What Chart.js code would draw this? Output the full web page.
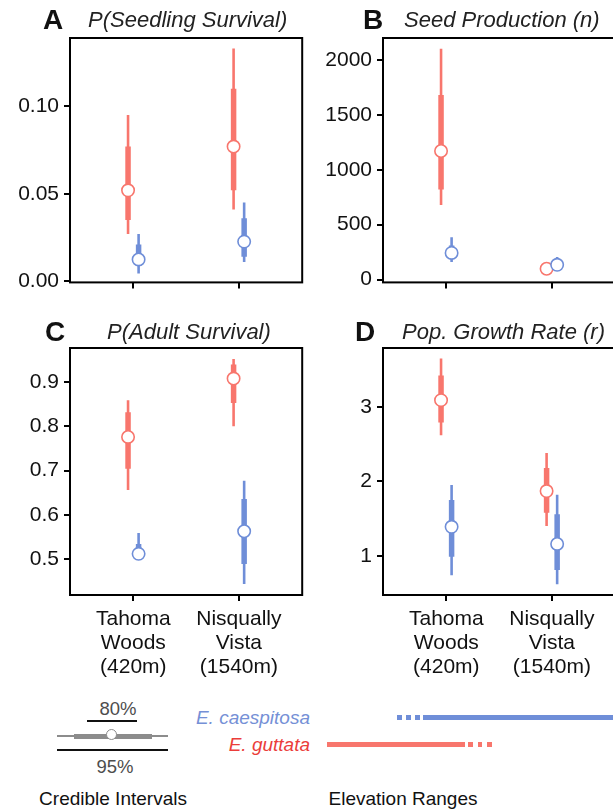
<!DOCTYPE html>
<html>
<head>
<meta charset="utf-8">
<script src="https://cdn.jsdelivr.net/npm/chart.js@4.4.1/dist/chart.umd.min.js"></script>
<style>
  html, body { margin: 0; padding: 0; width: 613px; height: 812px; overflow: hidden; background: #fff;
               font-family: "Liberation Sans", Arial, sans-serif; }
  .panel { position: absolute; }
  .txt { position: absolute; white-space: nowrap; line-height: 1; }
  .bar { position: absolute; }
</style>
</head>
<body>

<div class="panel" style="left:0;top:0;width:310px;height:300px"><canvas id="pA"></canvas></div>
<div class="panel" style="left:300px;top:0;width:323px;height:300px"><canvas id="pB"></canvas></div>
<div class="panel" style="left:0;top:300px;width:310px;height:385px"><canvas id="pC"></canvas></div>
<div class="panel" style="left:300px;top:300px;width:323px;height:385px"><canvas id="pD"></canvas></div>

<div id="notes"></div>

<script>
// sites on the x axis
const sites = [["Tahoma", "Woods", "(420m)"], ["Nisqually", "Vista", "(1540m)"]];

// A: seedling survival (median, 80% and 95% credible intervals)
const seedSurvGutMed = [0.052, 0.077];
const seedSurvGut80 = [[0.035, 0.077], [0.052, 0.110]];
const seedSurvGut95 = [[0.027, 0.095], [0.041, 0.133]];
const seedSurvCaeMed = [0.0125, 0.0227];
const seedSurvCae80 = [[0.009, 0.021], [0.014, 0.036]];
const seedSurvCae95 = [[0.0045, 0.027], [0.011, 0.045]];
const seedSurvTicks = [0, 0.05, 0.10];

// B: seed production
const seedProdGutMed = [1170, 99];
const seedProdGut80 = [[820, 1680], [80, 120]];
const seedProdGut95 = [[680, 2100], [65, 135]];
const seedProdCaeMed = [243, 135];
const seedProdCae80 = [[200, 310], [110, 170]];
const seedProdCae95 = [[160, 385], [95, 205]];
const seedProdTicks = [0, 500, 1000, 1500, 2000];

// C: adult survival
const adultSurvGutMed = [0.776, 0.908];
const adultSurvGut80 = [[0.704, 0.832], [0.853, 0.940]];
const adultSurvGut95 = [[0.656, 0.859], [0.800, 0.952]];
const adultSurvCaeMed = [0.512, 0.563];
const adultSurvCae80 = [[0.503, 0.534], [0.489, 0.636]];
const adultSurvCae95 = [[0.498, 0.559], [0.444, 0.677]];
const adultSurvTicks = [0.5, 0.6, 0.7, 0.8, 0.9];

// D: population growth rate
const growthGutMed = [3.09, 1.87];
const growthGut80 = [[2.79, 3.42], [1.58, 2.18]];
const growthGut95 = [[2.62, 3.65], [1.40, 2.38]];
const growthCaeMed = [1.39, 1.16];
const growthCae80 = [[0.99, 1.75], [0.81, 1.56]];
const growthCae95 = [[0.74, 1.95], [0.62, 1.82]];
const growthTicks = [1, 2, 3];

const RED = "#F8766D";
const BLUE = "#6F8ED8";
const FONT = "'Liberation Sans', Arial, sans-serif";
const DODGE = 0.05;

// interval segments for one species, broken with null between sites
function segments(ranges, shift) {
    const out = [];
    ranges.forEach(function(r, i) {
        const x = i + 1 + shift;
        out.push({x: x, y: r[0]}, {x: x, y: r[1]}, {x: x, y: null});
    });
    return out;
}

function medians(vals, shift) {
    return vals.map(function(v, i) { return {x: i + 1 + shift, y: v}; });
}

function lineSet(ranges, shift, color, width, order) {
    return {
        data: segments(ranges, shift), showLine: true, spanGaps: false,
        borderColor: color, borderWidth: width, borderCapStyle: "butt",
        pointRadius: 0, order: order
    };
}

function pointSet(vals, shift, color, order) {
    return {
        data: medians(vals, shift), showLine: false,
        pointRadius: 6.2, pointBorderWidth: 1.6,
        pointBackgroundColor: "#fff", pointBorderColor: color, order: order
    };
}

// full black frame round the plot area
const frame = {
    id: "frame",
    afterDraw(chart) {
        const a = chart.chartArea, ctx = chart.ctx;
        ctx.save();
        ctx.strokeStyle = "#000";
        ctx.lineWidth = 2;
        ctx.strokeRect(a.left, a.top, a.right - a.left, a.bottom - a.top);
        ctx.restore();
    }
};

function makePanel(id, p) {
    const datasets = [
        pointSet(p.caeMed, DODGE, BLUE, 0),
        pointSet(p.gutMed, -DODGE, RED, 1),
        lineSet(p.cae80, DODGE, BLUE, 5.5, 2),
        lineSet(p.gut80, -DODGE, RED, 5.5, 3),
        lineSet(p.cae95, DODGE, BLUE, 2.6, 4),
        lineSet(p.gut95, -DODGE, RED, 2.6, 5)
    ];
    return new Chart(id, {
        type: "scatter",
        data: {datasets: datasets},
        options: {
            responsive: true,
            maintainAspectRatio: false,
            animation: false,
            layout: {padding: {top: p.padTop, right: p.padRight, left: 0, bottom: 0}},
            plugins: {legend: {display: false}, tooltip: {enabled: false}},
            scales: {
                x: {
                    type: "linear", min: 0.4, max: 2.6,
                    afterBuildTicks: function(s) { s.ticks = [{value: 1}, {value: 2}]; },
                    afterFit: function(s) { s.height = p.xHeight; },
                    border: {display: false},
                    grid: {drawOnChartArea: false, drawTicks: true, tickLength: 6, color: "#000", lineWidth: 2},
                    ticks: {
                        padding: 6, color: "#111", maxRotation: 0, autoSkip: false,
                        font: {family: FONT, size: 21, lineHeight: 1.15},
                        callback: function(v, i) { return p.showSites ? sites[i] : ""; }
                    }
                },
                y: {
                    min: p.yMin, max: p.yMax,
                    afterBuildTicks: function(s) { s.ticks = p.ticks.map(function(v) { return {value: v}; }); },
                    afterFit: function(s) { s.width = p.yWidth; },
                    border: {display: false},
                    grid: {drawOnChartArea: false, drawTicks: true, tickLength: 6, color: "#000", lineWidth: 2},
                    ticks: {
                        padding: 5, color: "#111",
                        font: {family: FONT, size: 21},
                        callback: function(v) { return v.toFixed(p.digits); }
                    }
                }
            }
        },
        plugins: [frame]
    });
}

makePanel("pA", {
    gutMed: seedSurvGutMed, gut80: seedSurvGut80, gut95: seedSurvGut95,
    caeMed: seedSurvCaeMed, cae80: seedSurvCae80, cae95: seedSurvCae95,
    ticks: seedSurvTicks, digits: 2, yMin: -0.0006, yMax: 0.139,
    padTop: 38, padRight: 4, yWidth: 70, xHeight: 16, showSites: false
});
makePanel("pB", {
    gutMed: seedProdGutMed, gut80: seedProdGut80, gut95: seedProdGut95,
    caeMed: seedProdCaeMed, cae80: seedProdCae80, cae95: seedProdCae95,
    ticks: seedProdTicks, digits: 0, yMin: -25, yMax: 2198,
    padTop: 38, padRight: 4, yWidth: 83, xHeight: 16, showSites: false
});
makePanel("pC", {
    gutMed: adultSurvGutMed, gut80: adultSurvGut80, gut95: adultSurvGut95,
    caeMed: adultSurvCaeMed, cae80: adultSurvCae80, cae95: adultSurvCae95,
    ticks: adultSurvTicks, digits: 1, yMin: 0.419, yMax: 0.977,
    padTop: 48, padRight: 4, yWidth: 70, xHeight: 90, showSites: true
});
makePanel("pD", {
    gutMed: growthGutMed, gut80: growthGut80, gut95: growthGut95,
    caeMed: growthCaeMed, cae80: growthCae80, cae95: growthCae95,
    ticks: growthTicks, digits: 0, yMin: 0.475, yMax: 3.79,
    padTop: 48, padRight: 4, yWidth: 83, xHeight: 90, showSites: true
});

// panel letters, titles and the key underneath
const notes = document.getElementById("notes");

function text(str, x, y, size, opt) {
    opt = opt || {};
    const d = document.createElement("div");
    d.className = "txt";
    d.textContent = str;
    d.style.fontSize = size + "px";
    d.style.top = (y - 0.49 * size) + "px";
    d.style.left = x + "px";
    d.style.color = opt.color || "#111";
    if (opt.italic) d.style.fontStyle = "italic";
    if (opt.bold) d.style.fontWeight = "bold";
    if (opt.align === "center") d.style.transform = "translateX(-50%)";
    if (opt.align === "right") d.style.transform = "translateX(-100%)";
    notes.appendChild(d);
}

function rect(x1, x2, y, h, color) {
    const d = document.createElement("div");
    d.className = "bar";
    d.style.left = x1 + "px";
    d.style.width = (x2 - x1) + "px";
    d.style.top = (y - h / 2) + "px";
    d.style.height = h + "px";
    d.style.background = color;
    notes.appendChild(d);
}

text("A", 43, 20, 28, {bold: true});
text("P(Seedling Survival)", 88, 20, 22, {italic: true, color: "#222"});
text("B", 363, 20, 28, {bold: true});
text("Seed Production (n)", 404, 20, 22, {italic: true, color: "#222"});
text("C", 45, 332, 28, {bold: true});
text("P(Adult Survival)", 107, 332, 22, {italic: true, color: "#222"});
text("D", 355, 332, 28, {bold: true});
text("Pop. Growth Rate (r)", 402, 332, 22, {italic: true, color: "#222"});

// credible interval key
text("80%", 118, 709, 18.5, {align: "center", color: "#4d4d4d"});
rect(87, 137, 721, 2, "#111");
rect(57, 168, 736, 2, "#8c8c8c");
rect(74, 152, 736, 5, "#8c8c8c");
const dot = document.createElement("div");
dot.style.cssText = "position:absolute;left:106px;top:729px;width:11px;height:11px;border-radius:50%;" +
    "background:#fff;border:1.6px solid #8c8c8c;box-sizing:border-box;";
notes.appendChild(dot);
rect(57, 168, 750, 2, "#111");
text("95%", 115, 767, 18.5, {align: "center", color: "#4d4d4d"});
text("Credible Intervals", 113, 798, 19, {align: "center"});

// elevation range key
text("E. caespitosa", 310, 717, 19, {align: "right", italic: true, color: "#7590D6"});
text("E. guttata", 310, 744, 19, {align: "right", italic: true, color: "#EB3D3A"});
rect(397, 402, 717, 5, BLUE);
rect(406, 411, 717, 5, BLUE);
rect(415, 420, 717, 5, BLUE);
rect(423, 613, 717, 5, BLUE);
rect(327, 465, 744, 5, RED);
rect(468, 473, 744, 5, RED);
rect(478, 482, 744, 5, RED);
rect(487, 492, 744, 5, RED);
text("Elevation Ranges", 403, 798, 19, {align: "center"});
</script>
</body>
</html>
